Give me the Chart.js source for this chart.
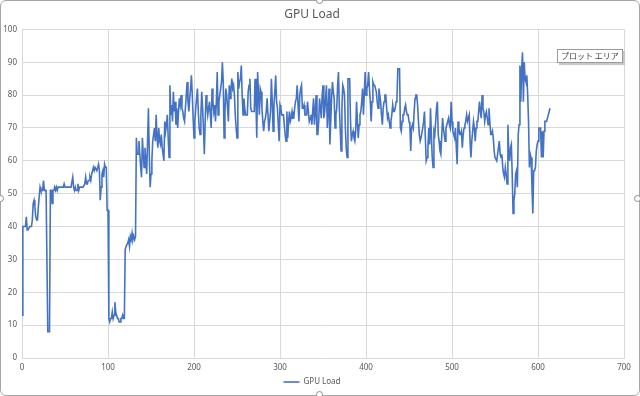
<!DOCTYPE html>
<html>
<head>
<meta charset="utf-8">
<script src="https://cdn.jsdelivr.net/npm/chart.js@4/dist/chart.umd.min.js"></script>
<style>
  html, body { margin: 0; padding: 0; background: #fff; }
  #wrap { position: relative; width: 640px; height: 396px; }
  #frame { position: absolute; left: 0; top: 0; width: 638px; height: 394px;
    border: 1px solid #a6a6a6; border-radius: 6px; pointer-events: none; }
  .handle { position: absolute; width: 5px; height: 5px; border: 1px solid #8c8c8c;
    border-radius: 50%; background: #fff; }
  #tip { position: absolute; left: 557px; top: 49px; padding: 0 3px; height: 12px;
    font: 8px "Noto Sans CJK JP", sans-serif; line-height: 12px; color: #444;
    background: #fff; border: 1px solid #9a9a9a; box-shadow: 2px 2px 1px #c8c8c8; }
</style>
</head>
<body>
<div id="wrap">
  <canvas id="chart" width="640" height="396"></canvas>
  <div id="frame"></div>
  <div class="handle" style="left:316px;top:-3px"></div>
  <div class="handle" style="left:-3px;top:195px"></div>
  <div class="handle" style="left:634px;top:195px"></div>
  <div class="handle" style="left:316px;top:391px"></div>
  <div id="tip">プロット エリア</div>
</div>
<script>
const seriesName = 'GPU Load';
const xTicks = [0, 100, 200, 300, 400, 500, 600, 700];
const yTicks = [0, 10, 20, 30, 40, 50, 60, 70, 80, 90, 100];

// one value per sample, index = sample number
const gpuLoad = [
  13, 40, 40, 40, 40, 43, 39, 39, 39, 40, 40, 40, 42, 47, 48, 46, 43, 42, 42, 46,
  49, 52, 51, 51, 51, 54, 51, 51, 51, 51, 8, 8, 8, 51, 51, 47, 51, 51, 52, 51,
  52, 51, 52, 52, 52, 52, 52, 52, 52, 53, 52, 52, 52, 52, 52, 52, 52, 52, 52, 55,
  52, 51, 52, 51, 51, 53, 51, 52, 52, 52, 52, 52, 52, 53, 55, 53, 53, 54, 54, 55,
  54, 56, 57, 58, 57, 58, 58, 57, 58, 59, 57, 48, 52, 56, 57, 55, 59, 58, 58, 45,
  45, 12, 11, 12, 12, 14, 12, 13, 17, 14, 13, 12, 12, 11, 11, 12, 12, 13, 12, 12,
  33, 34, 34, 35, 36, 34, 37, 36, 38, 36, 37, 36, 37, 67, 62, 62, 66, 62, 58, 55,
  67, 62, 58, 64, 60, 56, 66, 76, 62, 52, 56, 60, 66, 68, 70, 66, 74, 67, 64, 70,
  66, 65, 68, 64, 62, 60, 72, 69, 71, 74, 67, 61, 83, 74, 77, 72, 81, 75, 78, 71,
  76, 70, 75, 79, 77, 80, 76, 75, 73, 72, 76, 80, 84, 78, 75, 79, 82, 86, 80, 73,
  67, 72, 76, 79, 82, 75, 70, 68, 74, 81, 76, 70, 62, 72, 80, 77, 74, 76, 78, 74,
  70, 82, 78, 75, 77, 72, 78, 87, 74, 78, 80, 82, 84, 90, 84, 67, 75, 82, 80, 76,
  72, 83, 79, 82, 85, 82, 83, 80, 74, 70, 67, 87, 82, 84, 85, 89, 80, 74, 79, 76,
  74, 74, 74, 81, 83, 85, 76, 75, 75, 75, 75, 85, 78, 67, 87, 80, 74, 82, 81, 76,
  72, 69, 72, 73, 75, 79, 79, 69, 72, 75, 85, 78, 69, 77, 81, 86, 78, 76, 71, 66,
  77, 76, 74, 74, 74, 71, 68, 66, 75, 67, 72, 75, 72, 73, 75, 73, 73, 76, 78, 79,
  83, 77, 72, 80, 82, 83, 76, 76, 77, 74, 74, 74, 78, 75, 72, 73, 74, 71, 75, 79,
  71, 75, 80, 68, 68, 72, 79, 76, 73, 80, 83, 73, 75, 79, 83, 70, 75, 82, 65, 72,
  79, 84, 81, 79, 70, 74, 76, 83, 87, 76, 70, 63, 76, 83, 82, 80, 70, 64, 61, 85,
  85, 85, 72, 66, 68, 69, 67, 66, 69, 78, 72, 67, 71, 74, 75, 78, 82, 74, 80, 87,
  80, 82, 83, 87, 82, 78, 72, 78, 84, 83, 83, 82, 81, 78, 76, 82, 80, 78, 74, 71,
  76, 78, 80, 80, 76, 73, 74, 72, 70, 72, 74, 77, 75, 75, 76, 78, 79, 88, 88, 88,
  70, 69, 72, 74, 74, 76, 77, 75, 74, 74, 72, 71, 63, 70, 71, 70, 75, 79, 80, 80,
  77, 72, 68, 66, 67, 67, 70, 72, 75, 67, 60, 61, 64, 70, 65, 76, 68, 61, 58, 69,
  68, 72, 76, 78, 68, 66, 63, 62, 67, 73, 70, 68, 66, 70, 71, 72, 73, 71, 70, 78,
  72, 69, 68, 67, 70, 64, 59, 72, 70, 68, 68, 69, 64, 68, 70, 71, 72, 74, 72, 73,
  74, 66, 61, 66, 69, 72, 70, 66, 70, 72, 72, 75, 78, 75, 73, 80, 76, 75, 72, 74,
  75, 73, 71, 76, 72, 68, 68, 69, 67, 63, 61, 61, 60, 62, 64, 66, 62, 61, 62, 58,
  56, 55, 58, 56, 53, 71, 62, 60, 64, 65, 56, 44, 48, 50, 56, 57, 52, 68, 71, 89,
  78, 88, 93, 78, 90, 85, 84, 86, 80, 72, 58, 62, 61, 52, 44, 57, 57, 58, 63, 65,
  66, 70, 70, 70, 61, 69, 61, 69, 72, 72, 72, 73, 74, 75, 76
];

const textColor = '#595959';
const gridColor = '#d9d9d9';
const tickFont = { family: '"Noto Sans", sans-serif', size: 8 };

new Chart(document.getElementById('chart'), {
  type: 'line',
  data: {
    datasets: [{
      label: seriesName,
      data: gpuLoad.map((v, i) => ({ x: i, y: v })),
      borderColor: '#4472c4',
      backgroundColor: '#4472c4',
      borderWidth: 1.6,
      pointRadius: 0,
      tension: 0,
    }],
  },
  options: {
    responsive: false,
    animation: false,
    events: [],
    layout: { padding: { left: 0, right: 16, top: 0, bottom: 0 } },
    plugins: {
      title: {
        display: true,
        text: seriesName,
        color: textColor,
        font: { family: '"Noto Sans", sans-serif', size: 12, weight: 'normal' },
        padding: { top: 7, bottom: 8 },
      },
      legend: {
        position: 'bottom',
        labels: {
          color: textColor,
          font: tickFont,
          usePointStyle: true,
          pointStyle: 'line',
          pointStyleWidth: 16,
          boxHeight: 8,
          padding: 5,
        },
      },
      tooltip: { enabled: false },
    },
    scales: {
      x: {
        type: 'linear',
        min: 0,
        max: 700,
        afterBuildTicks: s => { s.ticks = xTicks.map(v => ({ value: v })); },
        afterFit: s => { s.height = 15; },
        ticks: { color: textColor, font: tickFont, padding: 5 },
        grid: { color: gridColor, drawTicks: false },
        border: { color: gridColor },
      },
      y: {
        min: 0,
        max: 100,
        afterBuildTicks: s => { s.ticks = yTicks.map(v => ({ value: v })); },
        afterFit: s => { s.width = 22; },
        ticks: { color: textColor, font: tickFont, padding: 5 },
        grid: { color: gridColor, drawTicks: false },
        border: { color: gridColor },
      },
    },
  },
});
</script>
</body>
</html>
